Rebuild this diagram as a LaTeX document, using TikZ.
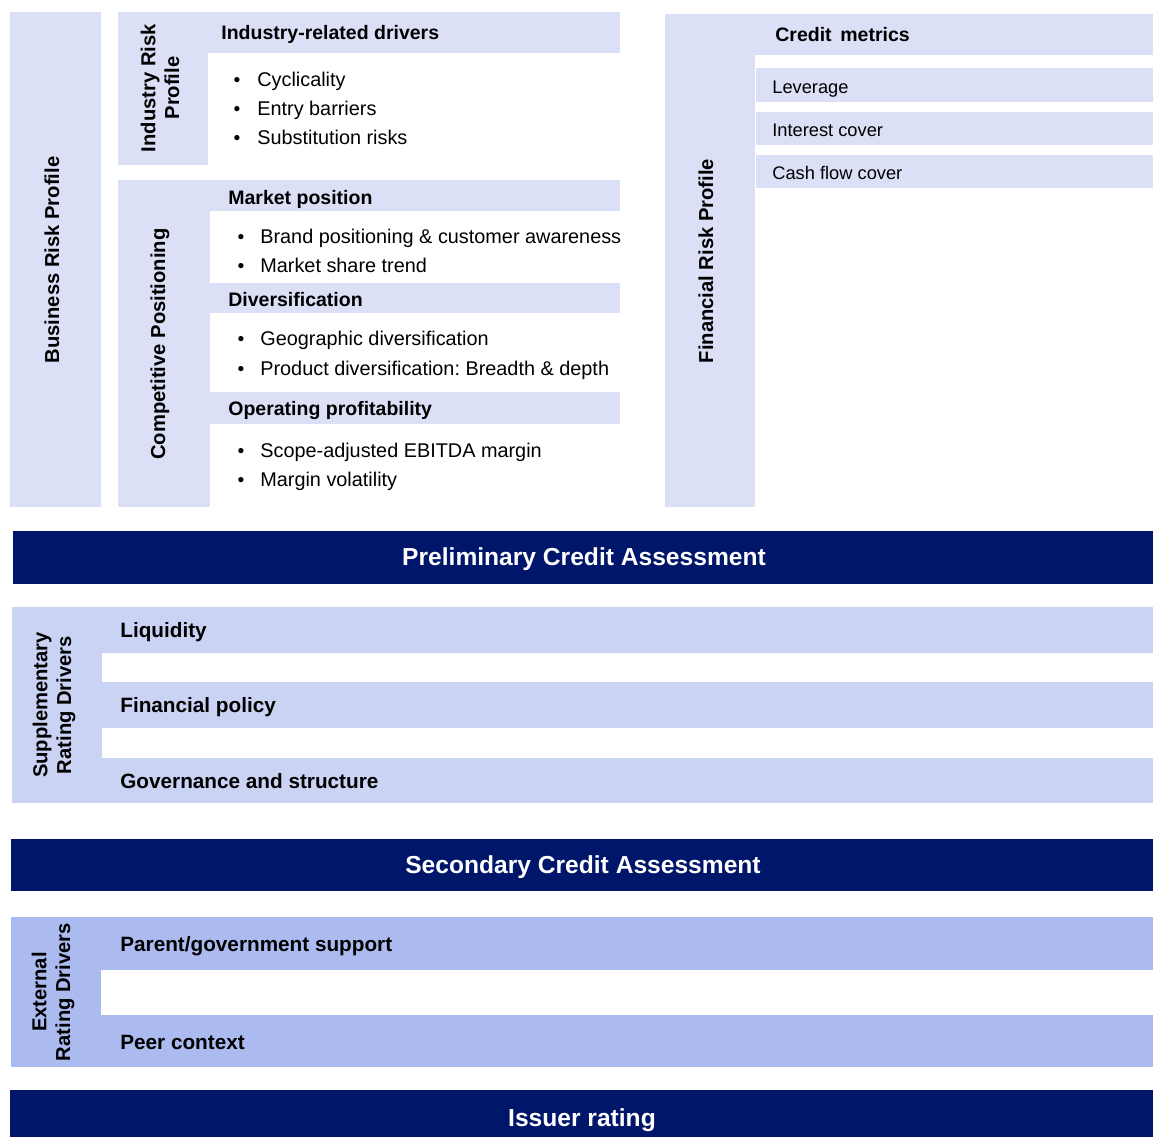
\documentclass[tikz,border=0pt]{standalone}
\usepackage{fontspec}
\setmainfont{Liberation Sans}
\usepackage{xcolor}
\usepackage{tikz}
\frenchspacing

\definecolor{lav}{HTML}{DBE0F7}
\definecolor{peri}{HTML}{CBD3F5}
\definecolor{corn}{HTML}{ABBBEF}
\definecolor{deepnavy}{HTML}{00166A}

\tikzset{
    head/.style={anchor=west, inner sep=0pt, text height=9.5pt, text depth=1.5pt,
        font=\bfseries\fontsize{11.1}{13}\selectfont},
    bighead/.style={head, font=\bfseries\fontsize{11.8}{14}\selectfont},
    item/.style={anchor=west, inner sep=0pt, text height=9.5pt, text depth=1.5pt,
        font=\fontsize{11.3}{13}\selectfont},
    metric/.style={item, font=\fontsize{10.4}{13}\selectfont},
    dot/.style={inner sep=0pt, text height=9.5pt, text depth=1.5pt,
        font=\fontsize{11}{13}\selectfont},
    vlabel/.style={rotate=90, align=center, inner sep=0pt,
        font=\bfseries\fontsize{11.5}{13.5}\selectfont},
    banner/.style={text=white, inner sep=0pt, text height=11pt, text depth=1.4pt,
        font=\bfseries\fontsize{14}{16}\selectfont}
}

\begin{document}
\begin{tikzpicture}[x=0.02cm, y=-0.02cm]
    %\draw[step=50,gray,very thin] (0,0) grid (1153,1137);
    \useasboundingbox (0,0) rectangle (1153,1137);

    % business risk
    \fill[lav] (10,12) rectangle (101,507);
    \node[vlabel] (brp) at (52,260) {Business Risk Profile};

    \fill[lav] (118,12) rectangle (620,53);
    \fill[lav] (118,53) rectangle (208,165);
    \node[vlabel] (irp) at (160,88) {Industry Risk\\Profile};
    \node[head] (ind) at (221,32) {Industry-related drivers};
    \foreach \t [count=\i] in {Cyclicality, Entry barriers, Substitution risks} {
        \node[dot] (inddot\i) at (237,50+29*\i) {\textbullet};
        \node[item] (ind\i) at (257,50+29*\i) {\t};
    }

    \fill[lav] (118,180) rectangle (210,507);
    \foreach \a/\b in {180/211, 283/313, 392/424}
        \fill[lav] (210,\a) rectangle (620,\b);
    \node[vlabel] (cp) at (160,344) {Competitive Positioning};
    \node[head] (mp) at (228,197) {Market position};
    \node[head] (div) at (228,299) {Diversification};
    \node[head] (op) at (228,408) {Operating profitability};
    \foreach \y/\t/\n in {236/Brand positioning \& customer awareness/mp1,
                          265/Market share trend/mp2,
                          338/Geographic diversification/div1,
                          368/Product diversification: Breadth \& depth/div2,
                          450/Scope-adjusted EBITDA margin/op1,
                          479/Margin volatility/op2} {
        \node[dot] (\n dot) at (241,\y) {\textbullet};
        \node[item] (\n) at (260,\y) {\t};
    }

    % financial risk
    \fill[lav] (665,14) rectangle (755,507);
    \fill[lav] (665,14) rectangle (1153,55);
    \foreach \a/\b in {68/102, 112/145, 155/188}
        \fill[lav] (756,\a) rectangle (1153,\b);
    \node[vlabel] (frp) at (706,261) {Financial Risk Profile};
    \node[head] (cm) at (775,34) {Credit\ \,metrics};
    \node[metric] (lev) at (772,86) {Leverage};
    \node[metric] (icov) at (772,129) {Interest cover};
    \node[metric] (cfc) at (772,172) {Cash flow cover};

    \fill[deepnavy] (13,531) rectangle (1153,584);
    \node[banner] (pca) at (584,557) {Preliminary Credit Assessment};

    % supplementary drivers
    \fill[peri] (12,607) rectangle (102,803);
    \foreach \a/\b in {607/653, 682/728, 758/803}
        \fill[peri] (102,\a) rectangle (1153,\b);
    \node[vlabel] (srd) at (54,705) {Supplementary\\Rating Drivers};
    \node[bighead] (liq) at (120,630) {Liquidity};
    \node[bighead] (fp) at (120,705) {Financial policy};
    \node[bighead] (gov) at (120,781) {Governance and structure};

    \fill[deepnavy] (11,839) rectangle (1153,891);
    \node[banner] (sca) at (583,865) {Secondary Credit Assessment};

    % external drivers
    \fill[corn] (11,917) rectangle (101,1067);
    \foreach \a/\b in {917/970, 1015/1067}
        \fill[corn] (101,\a) rectangle (1153,\b);
    \node[vlabel] (erd) at (53,992) {External\\Rating Drivers};
    \node[bighead] (pgs) at (120,944) {Parent/government support};
    \node[bighead] (peer) at (120,1042) {Peer context};

    \fill[deepnavy] (10,1090) rectangle (1153,1137);
    \node[banner] (iss) at (582,1118) {Issuer rating};

\end{tikzpicture}
\end{document}
